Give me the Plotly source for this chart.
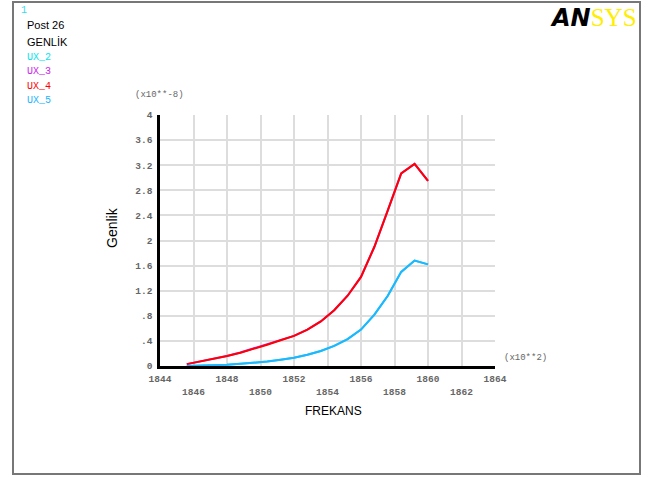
import plotly.graph_objects as go

# ---- data (frequency in x10**2, amplitude in x10**-8) ----
freq = [1845.6, 1846.4, 1847.2, 1848.0, 1848.8, 1849.6, 1850.4, 1851.2, 1852.0,
        1852.8, 1853.6, 1854.4, 1855.2, 1856.0, 1856.8, 1857.6, 1858.4, 1859.2, 1860.0]
ux4 = [0.03, 0.07, 0.11, 0.16, 0.21, 0.27, 0.34, 0.41, 0.48,
       0.58, 0.71, 0.89, 1.12, 1.42, 1.90, 2.48, 3.07, 3.22, 2.95]
ux3 = [0.03, 0.07, 0.11, 0.16, 0.215, 0.28, 0.345, 0.41, 0.48,
       0.58, 0.71, 0.89, 1.12, 1.42, 1.90, 2.48, 3.07, 3.22, 2.95]
ux5 = [0.00, 0.005, 0.01, 0.02, 0.035, 0.05, 0.07, 0.10, 0.13,
       0.18, 0.24, 0.32, 0.43, 0.58, 0.82, 1.12, 1.50, 1.68, 1.62]
ux2 = [0.00, 0.005, 0.01, 0.02, 0.035, 0.05, 0.07, 0.10, 0.13,
       0.18, 0.24, 0.32, 0.43, 0.58, 0.82, 1.12, 1.50, 1.68, 1.62]

x_ticks = [1844, 1846, 1848, 1850, 1852, 1854, 1856, 1858, 1860, 1862, 1864]
x_ticktext = ["1844", "<br>1846", "1848", "<br>1850", "1852", "<br>1854",
              "1856", "<br>1858", "1860", "<br>1862", "1864"]
y_ticks = [0, 0.4, 0.8, 1.2, 1.6, 2.0, 2.4, 2.8, 3.2, 3.6, 4.0]
y_ticktext = ["0", ".4", ".8", "1.2", "1.6", "2", "2.4", "2.8", "3.2", "3.6", "4"]

series = [("UX_2", ux2, "#00E5EE"), ("UX_3", ux3, "#CC22EE"),
          ("UX_4", ux4, "#FF0000"), ("UX_5", ux5, "#22B4FF")]

W, H = 648, 477
L, R, T, B = 160, 153, 115, 111
PW, PH = W - L - R, H - T - B


def xp(px):
    return (px - L) / PW


def yp(py):
    return (H - B - py) / PH


fig = go.Figure()
for name, vals, col in series:
    fig.add_trace(go.Scatter(x=freq, y=vals, mode="lines", name=name,
                             line=dict(color=col, width=2), showlegend=False))

mono = "Liberation Mono, DejaVu Sans Mono, monospace"
sans = "Liberation Sans, Arial, sans-serif"
tickf = dict(family=mono, size=9.5, color="#666666", weight="bold")

fig.update_layout(
    width=W, height=H,
    margin=dict(l=L, r=R, t=T, b=B, pad=0),
    paper_bgcolor="white", plot_bgcolor="white",
    xaxis=dict(range=[1844, 1864], tickvals=x_ticks, ticktext=x_ticktext,
               showgrid=True, gridcolor="#DDDDDD", gridwidth=1.5,
               showline=True, linecolor="black", linewidth=2.5,
               ticks="", zeroline=False, ticklabelstandoff=2,
               tickfont=tickf),
    yaxis=dict(range=[0, 4], tickvals=y_ticks, ticktext=y_ticktext,
               showgrid=True, gridcolor="#DDDDDD", gridwidth=1.5,
               showline=True, linecolor="black", linewidth=2.5,
               ticks="", zeroline=False, ticklabelstandoff=3,
               tickfont=tickf),
)

ann = []
# top-left header
ann.append(dict(x=xp(19), y=yp(11), text="1", font=dict(family=mono, size=10, color="#33DDEE")))
ann.append(dict(x=xp(25), y=yp(25), text="Post 26", font=dict(family=sans, size=11, color="black")))
ann.append(dict(x=xp(25), y=yp(42), text="GENLİK", font=dict(family=sans, size=11, color="black")))
for i, (name, vals, col) in enumerate(series):
    ann.append(dict(x=xp(25), y=yp(58 + 14 * i), text=name,
                    font=dict(family=mono, size=10, color=col)))
for a in ann:
    a.update(xref="paper", yref="paper", xanchor="left", yanchor="middle", showarrow=False)

extra = [
    dict(x=xp(159), y=yp(95), text="(x10**-8)", xanchor="center",
         font=dict(family=mono, size=9, color="#666666")),
    dict(x=xp(502), y=yp(358), text="(x10**2)", xanchor="left",
         font=dict(family=mono, size=9, color="#666666")),
    dict(x=xp(333), y=yp(411), text="FREKANS", xanchor="center",
         font=dict(family=sans, size=12, color="black")),
    dict(x=xp(112), y=yp(228), text="Genlik", xanchor="center", textangle=-90,
         font=dict(family=sans, size=14, color="black")),
    dict(x=xp(639), y=yp(18),
         text="<b><i>AN</i></b><span style='font-family:Liberation Serif,serif;font-weight:normal;color:#FFEE00;font-size:25px'>SYS</span>",
         xanchor="right", font=dict(family="DejaVu Sans, sans-serif", size=24, color="black")),
]
for a in extra:
    a.update(xref="paper", yref="paper", yanchor="middle", showarrow=False)
    ann.append(a)
fig.update_layout(annotations=ann)

# outer frame
fig.add_shape(type="rect", xref="paper", yref="paper",
              x0=xp(13), x1=xp(640), y0=yp(474), y1=yp(2),
              line=dict(color="#777777", width=2), layer="below")

fig.write_html("out.html", config={"displayModeBar": False},
               post_script="document.body.style.margin='0';")
